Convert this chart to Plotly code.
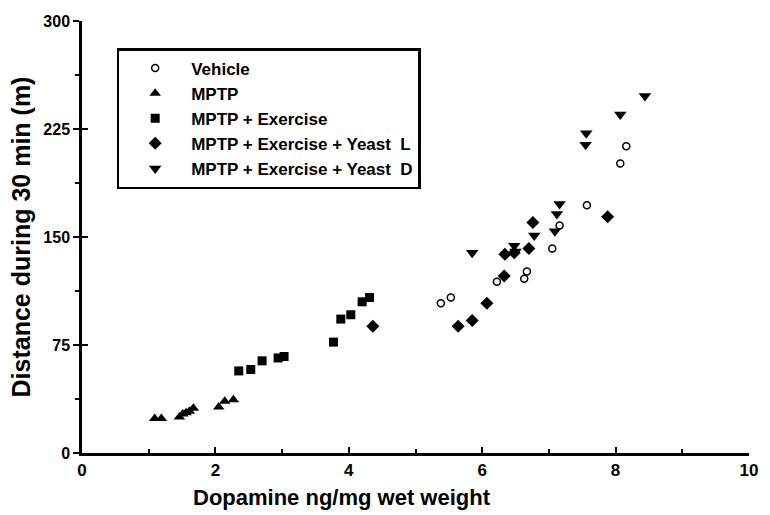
import plotly.graph_objects as go

# ---- data ----
vehicle_x = [5.38, 5.53, 6.22, 6.63, 6.67, 7.05, 7.16, 7.57, 8.07, 8.16]
vehicle_y = [104, 108, 119, 121, 126, 142, 158, 172, 201, 213]

mptp_x = [1.09, 1.19, 1.46, 1.51, 1.56, 1.61, 1.67, 2.05, 2.14, 2.27]
mptp_y = [24, 24, 25, 27, 28, 29, 31, 32, 36, 37]

ex_x = [2.35, 2.53, 2.70, 2.94, 3.03, 3.77, 3.88, 4.03, 4.20, 4.31]
ex_y = [57, 58, 64, 66, 67, 77, 93, 96, 105, 108]

yl_x = [4.36, 5.64, 5.85, 6.07, 6.33, 6.34, 6.48, 6.70, 6.76, 7.88]
yl_y = [88, 88, 92, 104, 123, 138, 139, 142, 160, 164]

yd_x = [5.85, 6.48, 6.50, 6.78, 7.09, 7.12, 7.16, 7.55, 7.56, 8.07, 8.44]
yd_y = [139, 144, 140, 151, 154, 166, 173, 214, 222, 235, 248]

names = ["Vehicle", "MPTP", "MPTP + Exercise",
         "MPTP + Exercise + Yeast  L", "MPTP + Exercise + Yeast  D"]

x_ticks = [0, 2, 4, 6, 8, 10]
y_ticks = [0, 75, 150, 225, 300]

FONT = "Arial, Liberation Sans, sans-serif"

fig = go.Figure()
series = [
    (vehicle_x, vehicle_y, "circle-open", 7, names[0]),
    (mptp_x, mptp_y, "triangle-up", 10, names[1]),
    (ex_x, ex_y, "square", 9, names[2]),
    (yl_x, yl_y, "diamond", 10, names[3]),
    (yd_x, yd_y, "triangle-down", 11, names[4]),
]
for xs, ys, sym, sz, nm in series:
    mk = dict(symbol=sym, size=sz, color="black")
    if sym.endswith("open"):
        mk["line"] = dict(color="black", width=1.5)
    else:
        mk["line"] = dict(width=0)
    fig.add_trace(go.Scatter(x=xs, y=ys, mode="markers", name=nm, marker=mk))

# invisible trace on an overlaid axis to draw the inner half of the y ticks
fig.add_trace(go.Scatter(x=[None], y=[None], yaxis="y2", showlegend=False,
                         hoverinfo="skip"))

fig.update_layout(
    width=770, height=515,
    margin=dict(l=82, r=12, t=21, b=62),
    paper_bgcolor="white", plot_bgcolor="white",
    font=dict(family=FONT, color="black"),
    showlegend=True,
    legend=dict(
        x=0.052, y=0.9375, xanchor="left", yanchor="top",
        bordercolor="black", borderwidth=2.5, bgcolor="white",
        font=dict(family=FONT, size=17, color="black", weight="bold"),
        itemwidth=62, tracegroupgap=0,
    ),
    xaxis=dict(
        range=[0, 10], tickvals=x_ticks, ticks="inside", ticklen=6,
        tickwidth=2, tickcolor="black",
        showline=True, linecolor="black", linewidth=2.5,
        showgrid=False, zeroline=False,
        tickfont=dict(family=FONT, size=17, color="black", weight="bold"),
        minor=dict(dtick=1, ticks="inside", ticklen=4, tickwidth=1.5, tickcolor="black"),
    ),
    yaxis=dict(
        range=[0, 300], tickvals=y_ticks, ticks="outside", ticklen=6,
        tickwidth=2, tickcolor="black",
        showline=True, linecolor="black", linewidth=2.5,
        showgrid=False, zeroline=False,
        tickfont=dict(family=FONT, size=16, color="black", weight="bold"),
        minor=dict(dtick=37.5, ticks="outside", ticklen=4, tickwidth=1.5, tickcolor="black"),
        title=dict(text="Distance during 30 min (m)",
                   font=dict(family=FONT, size=25, color="black", weight="bold"),
                   standoff=6),
    ),
    yaxis2=dict(
        range=[0, 300], overlaying="y", side="left", tickvals=y_ticks,
        ticks="inside", ticklen=6, tickwidth=2, tickcolor="black",
        showticklabels=False, showline=False, showgrid=False, zeroline=False,
    ),
    annotations=[dict(
        text="Dopamine ng/mg wet weight", xref="paper", yref="paper",
        x=0.39, y=-0.102, xanchor="center", yanchor="middle", showarrow=False,
        font=dict(family=FONT, size=22, color="black", weight="bold"),
    )],
)

fig.write_html("out.html")
